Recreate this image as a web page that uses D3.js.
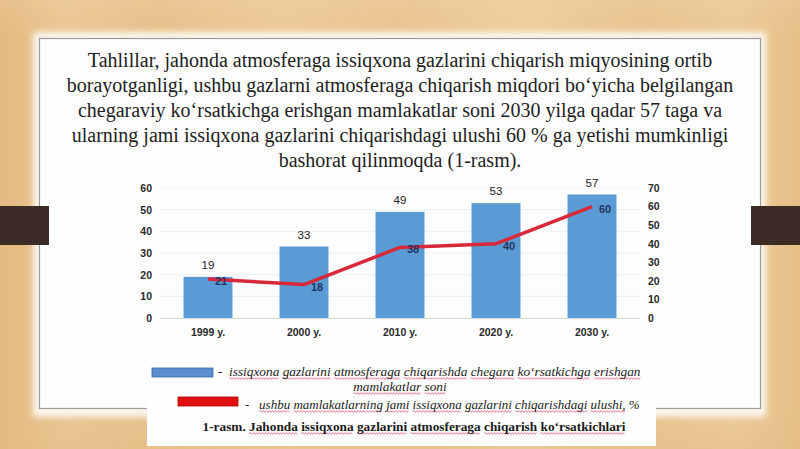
<!DOCTYPE html>
<html>
<head>
<meta charset="utf-8">
<script src="https://cdn.jsdelivr.net/npm/d3@7/dist/d3.min.js"></script>
<style>
html,body{margin:0;padding:0;background:#e8c48d;}
svg{display:block;}
</style>
</head>
<body>
<svg id="chart" width="800" height="449"></svg>
<script>
// ---- data ----
const categories = ["1999 y.", "2000 y.", "2010 y.", "2020 y.", "2030 y."];
const countries = [19, 33, 49, 53, 57];      // bars, left axis
const shares = [21, 18, 38, 40, 60];          // line, right axis (%)
const leftTicks = [0, 10, 20, 30, 40, 50, 60];
const rightTicks = [0, 10, 20, 30, 40, 50, 60, 70];
const titleLines = [
  "Tahlillar, jahonda atmosferaga issiqxona gazlarini chiqarish miqyosining ortib",
  "borayotganligi, ushbu gazlarni atmosferaga chiqarish miqdori bo‘yicha belgilangan",
  "chegaraviy ko‘rsatkichga erishgan mamlakatlar soni 2030 yilga qadar 57 taga va",
  "ularning jami issiqxona gazlarini chiqarishdagi ulushi 60 % ga yetishi mumkinligi",
  "bashorat qilinmoqda (1-rasm)."
];
const legend1a = ["issiqxona", "gazlarini", "atmosferaga", "chiqarishda", "chegara", "ko‘rsatkichga", "erishgan"];
const legend1b = ["mamlakatlar", "soni"];
const legend2 = ["ushbu", "mamlakatlarning", "jami", "issiqxona", "gazlarini", "chiqarishdagi", "ulushi,"];
const captionWords = ["Jahonda", "issiqxona", "gazlarini", "atmosferaga", "chiqarish", "ko‘rsatkichlari"];

const svg = d3.select("#chart");
const defs = svg.append("defs");

// wood background
const bg = defs.append("linearGradient").attr("id", "wood").attr("x1", 0).attr("x2", 1).attr("y1", 0).attr("y2", 0);
[[0, "#e4b880"], [0.08, "#ebc793"], [0.2, "#e7c08a"], [0.35, "#edcb98"], [0.5, "#e9c48e"], [0.65, "#efd0a0"], [0.8, "#e8c48e"], [0.92, "#eccb98"], [1, "#e6bf88"]]
  .forEach(([o, c]) => bg.append("stop").attr("offset", o).attr("stop-color", c));
svg.append("rect").attr("width", 800).attr("height", 449).attr("fill", "url(#wood)");
const bgv = defs.append("linearGradient").attr("id", "woodv").attr("x1", 0).attr("x2", 0).attr("y1", 0).attr("y2", 1);
[[0, "#f0d2a4", 0.35], [0.1, "#e8c28b", 0], [0.9, "#e8c28b", 0], [1, "#e2bb84", 0.4]]
  .forEach(([o, c, a]) => bgv.append("stop").attr("offset", o).attr("stop-color", c).attr("stop-opacity", a));
svg.append("rect").attr("width", 800).attr("height", 449).attr("fill", "url(#woodv)");

// panel glow + panel
const blur = defs.append("filter").attr("id", "glow").attr("x", "-10%").attr("y", "-10%").attr("width", "120%").attr("height", "120%");
blur.append("feGaussianBlur").attr("stdDeviation", 3);
svg.append("rect").attr("x", 33).attr("y", 32).attr("width", 733).attr("height", 385)
  .attr("fill", "#fbf6ec").attr("filter", "url(#glow)");
svg.append("rect").attr("x", 39.5).attr("y", 38.5).attr("width", 721).attr("height", 370)
  .attr("fill", "#fdfdfd").attr("stroke", "#9c9c9c").attr("stroke-width", 1.2);

// dark tabs
svg.append("rect").attr("x", 0).attr("y", 206).attr("width", 49).attr("height", 39).attr("fill", "#3b2b24");
svg.append("rect").attr("x", 751).attr("y", 206).attr("width", 49).attr("height", 39).attr("fill", "#3b2b24");

// title text
const title = svg.append("text").attr("text-anchor", "middle")
  .attr("font-family", "'Liberation Serif', 'DejaVu Serif', serif").attr("font-size", 20).attr("fill", "#1e1e1e");
titleLines.forEach((t, i) => title.append("tspan").attr("x", 400).attr("y", 67 + i * 25).text(t));

// ---- chart ----
const x = d3.scaleBand().domain(categories).range([160, 640]).paddingInner(0.49).paddingOuter(0.245);
const yL = d3.scaleLinear().domain([0, 60]).range([318, 188]);
const yR = d3.scaleLinear().domain([0, 70]).range([318, 188]);

// faint gridlines
svg.append("g").selectAll("line").data(leftTicks.slice(1)).join("line")
  .attr("x1", 160).attr("x2", 640).attr("y1", d => yL(d)).attr("y2", d => yL(d))
  .attr("stroke", "#f0f0f0").attr("stroke-width", 1);
svg.append("line").attr("x1", 160).attr("x2", 640).attr("y1", yL(0) + 0.5).attr("y2", yL(0) + 0.5)
  .attr("stroke", "#d9d9d9");

// axes
const axL = svg.append("g").attr("transform", "translate(152,0)")
  .call(d3.axisLeft(yL).tickValues(leftTicks).tickSize(0).tickPadding(0));
const axR = svg.append("g").attr("transform", "translate(648,0)")
  .call(d3.axisRight(yR).tickValues(rightTicks).tickSize(0).tickPadding(0));
const axB = svg.append("g").attr("transform", "translate(0,330)")
  .call(d3.axisBottom(x).tickSize(0).tickPadding(0));
[axL, axR, axB].forEach(a => {
  a.select(".domain").remove();
  a.selectAll("text").attr("font-family", "'Liberation Sans', Arial, sans-serif")
    .attr("font-weight", "bold").attr("font-size", 10.5).attr("fill", "#2a2a2a");
});
axB.selectAll("text").attr("dy", "0.6em");

// bars
svg.append("g").selectAll("rect").data(countries).join("rect")
  .attr("x", (d, i) => x(categories[i])).attr("width", x.bandwidth())
  .attr("y", d => yL(d)).attr("height", d => yL(0) - yL(d))
  .attr("fill", "#5b9bd5");
svg.append("g").selectAll("text").data(countries).join("text")
  .attr("x", (d, i) => x(categories[i]) + x.bandwidth() / 2).attr("y", d => yL(d) - 8)
  .attr("text-anchor", "middle").attr("font-family", "'Liberation Sans', Arial, sans-serif")
  .attr("font-size", 11.5).attr("fill", "#222").text(d => d);

// line
const cx = i => x(categories[i]) + x.bandwidth() / 2;
svg.append("path").datum(shares)
  .attr("d", d3.line().x((d, i) => cx(i)).y(d => yR(d)))
  .attr("fill", "none").attr("stroke", "#d8283a").attr("stroke-width", 3.5).attr("stroke-linejoin", "round");
svg.append("g").selectAll("text").data(shares).join("text")
  .attr("x", (d, i) => cx(i) + 7).attr("y", d => yR(d) + 6)
  .attr("font-family", "'Liberation Sans', Arial, sans-serif").attr("font-weight", "bold")
  .attr("font-size", 11).attr("fill", "#1f3560").text(d => d);

// ---- legend & caption ----
svg.append("rect").attr("x", 147).attr("y", 357).attr("width", 509).attr("height", 89).attr("fill", "#fefefe");
svg.append("rect").attr("x", 152).attr("y", 368).attr("width", 61).attr("height", 9).attr("fill", "#5b8fd0").attr("stroke", "#3c6aa8").attr("stroke-width", 0.8);
svg.append("rect").attr("x", 178).attr("y", 397).attr("width", 60).attr("height", 9).attr("fill", "#e01010").attr("stroke", "#b00000").attr("stroke-width", 0.8);

const squiggles = svg.append("g");
function wavyPath(x0, x1, y) {
  let p = `M${x0},${y}`;
  const step = 1.5;
  let up = true;
  for (let xx = x0 + step; xx <= x1; xx += step) {
    p += `L${xx},${y + (up ? -0.9 : 0.9)}`;
    up = !up;
  }
  return p;
}
function wavyLine(xPos, yPos, anchor, prefix, words, suffix, opts) {
  const t = svg.append("text").attr("x", xPos).attr("y", yPos).attr("text-anchor", anchor)
    .attr("font-family", "'Liberation Serif', 'DejaVu Serif', serif")
    .attr("font-size", opts.size).attr("font-style", opts.italic ? "italic" : "normal")
    .attr("font-weight", opts.bold ? "bold" : "normal").attr("fill", "#1a1a1a")
    .attr("xml:space", "preserve");
  let full = "";
  const spans = [];
  if (prefix) full += prefix;
  words.forEach((w, i) => {
    spans.push([full.length, full.length + w.length - 1]);
    full += w;
    if (i < words.length - 1) full += " ";
  });
  if (suffix) full += suffix;
  t.text(full);
  const node = t.node();
  spans.forEach(([a, b]) => {
    const s = node.getStartPositionOfChar(a).x;
    const e = node.getEndPositionOfChar(b).x;
    squiggles.append("path").attr("d", wavyPath(s, e, yPos + 2.5))
      .attr("fill", "none").attr("stroke", "#e2577a").attr("stroke-width", 0.9).attr("opacity", 0.85);
  });
  return t;
}
wavyLine(218, 376, "start", "-  ", legend1a, null, {size: 13.3, italic: true});
wavyLine(400, 391, "middle", null, legend1b, null, {size: 13.3, italic: true});
wavyLine(245, 409, "start", "-   ", legend2, " %", {size: 13, italic: true});
wavyLine(414, 431, "middle", "1-rasm. ", captionWords, null, {size: 13.3, bold: true});
</script>
</body>
</html>
